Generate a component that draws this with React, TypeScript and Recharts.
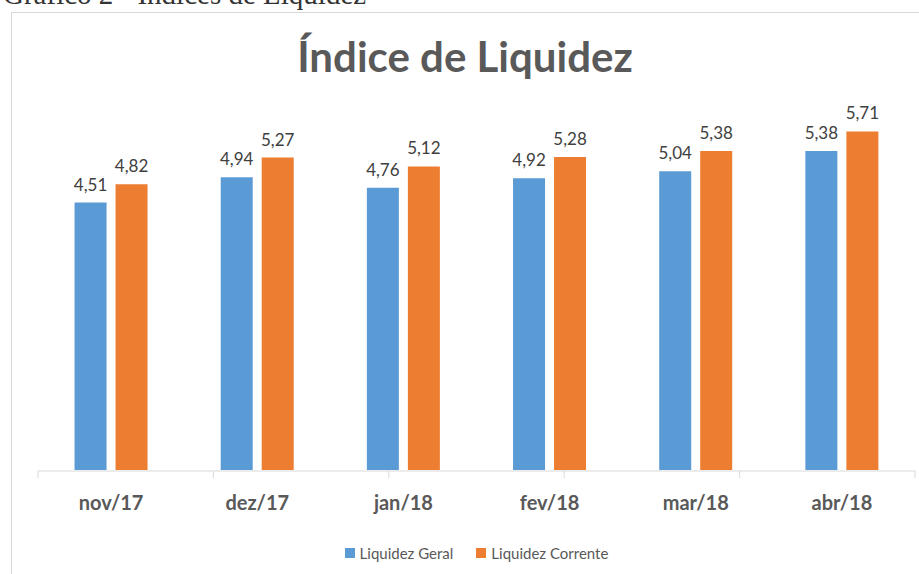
import React from "react";
import { BarChart, Bar, XAxis, YAxis, Legend, LabelList } from "recharts";

const categories = ["nov/17", "dez/17", "jan/18", "fev/18", "mar/18", "abr/18"];
const liquidezGeral = [4.51, 4.94, 4.76, 4.92, 5.04, 5.38];
const liquidezCorrente = [4.82, 5.27, 5.12, 5.28, 5.38, 5.71];
const seriesNames = ["Liquidez Geral", "Liquidez Corrente"];
const seriesColors = ["#5B9BD5", "#ED7D31"];
const title = "Índice de Liquidez";
const caption = "Gráfico 2 - Índices de Liquidez";

const data = categories.map((c, i) => ({
  cat: c,
  geral: liquidezGeral[i],
  corrente: liquidezCorrente[i],
}));
const edgeTicks = [...categories.map((_, i) => i), categories.length];

const FONT = "Lato, 'Open Sans', sans-serif";
const fmt = (v: number) => v.toFixed(2).replace(".", ",");

const renderLegend = (props: any) => {
  const payload = [...(props.payload || [])].sort(
    (a: any, b: any) => seriesNames.indexOf(a.value) - seriesNames.indexOf(b.value)
  );
  return (
    <div style={{ display: "flex", justifyContent: "center", fontFamily: FONT, fontSize: 15, color: "#595959" }}>
      {payload.map((p: any, i: number) => (
        <div key={i} style={{ display: "flex", alignItems: "center", marginRight: i === payload.length - 1 ? 0 : 23 }}>
          <div style={{ width: 10, height: 10, background: p.color, marginRight: 5 }} />
          <span>{p.value}</span>
        </div>
      ))}
    </div>
  );
};

const EmptyTick = () => <g />;

export default function App() {
  return (
    <div style={{ position: "absolute", left: 0, top: 0, width: 919, height: 574, overflow: "hidden", background: "#fff" }}>
      <div style={{ position: "absolute", left: 3, top: -22, fontFamily: "'Liberation Serif', serif", fontSize: 29, color: "#333", whiteSpace: "nowrap" }}>
        {caption}
      </div>
      <div style={{ position: "absolute", left: 11, top: 12, width: 940, height: 600, border: "1px solid #D9D9D9", boxSizing: "border-box" }} />
      <div style={{ position: "absolute", left: 0, top: 32, width: 930, textAlign: "center", fontFamily: FONT, fontWeight: 700, fontSize: 42, color: "#595959", lineHeight: "48px" }}>
        {title}
      </div>
      <div style={{ position: "absolute", left: 0, top: 0 }}>
        <BarChart
          width={919}
          height={574}
          data={data}
          margin={{ top: 55, right: 4, left: 38, bottom: 8 }}
          barCategoryGap="25%"
          barGap={9}
        >
          <XAxis
            dataKey="cat"
            xAxisId="a"
            axisLine={false}
            tickLine={false}
            height={1}
            tick={{ fontFamily: FONT, fontWeight: 700, fontSize: 20, fill: "#595959" }}
            dy={18}
            interval={0}
          />
          <XAxis
            xAxisId="b"
            type="number"
            domain={[0, categories.length]}
            allowDataOverflow
            ticks={edgeTicks}
            interval={0}
            tick={<EmptyTick />}
            tickSize={7}
            tickLine={{ stroke: "#D9D9D9" }}
            axisLine={{ stroke: "#D9D9D9" }}
            height={73}
          />
          <YAxis hide domain={[0, 7]} />
          <Legend verticalAlign="bottom" height={22} content={renderLegend} />
          <Bar dataKey="geral" xAxisId="a" name={seriesNames[0]} fill={seriesColors[0]} isAnimationActive={false}>
            <LabelList dataKey="geral" position="top" offset={12} formatter={fmt as any} style={{ fontFamily: FONT, fontSize: 17, fill: "#404040" }} />
          </Bar>
          <Bar dataKey="corrente" xAxisId="a" name={seriesNames[1]} fill={seriesColors[1]} isAnimationActive={false}>
            <LabelList dataKey="corrente" position="top" offset={12} formatter={fmt as any} style={{ fontFamily: FONT, fontSize: 17, fill: "#404040" }} />
          </Bar>
        </BarChart>
      </div>
    </div>
  );
}
